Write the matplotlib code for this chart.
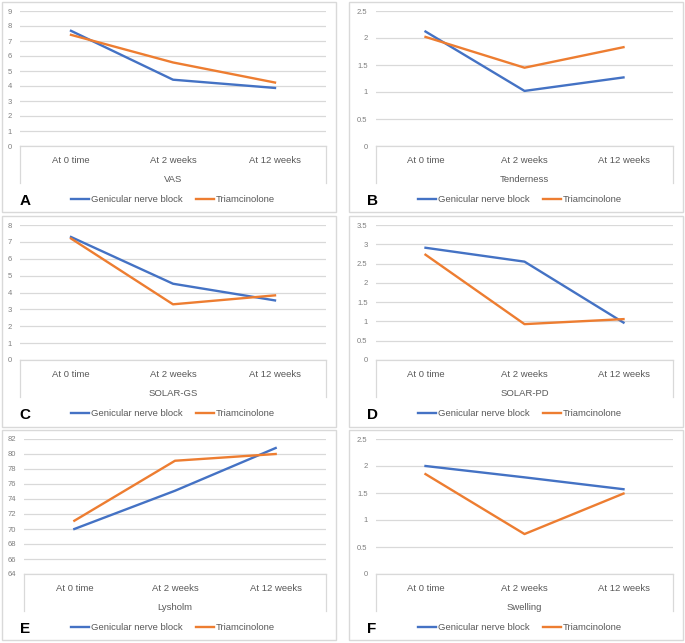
import matplotlib.pyplot as plt
from matplotlib.patches import Rectangle

plt.rcParams['font.family'] = ['Liberation Sans', 'DejaVu Sans']

# Data
times = ['At 0 time', 'At 2 weeks', 'At 12 weeks']
series_names = ['Genicular nerve block', 'Triamcinolone']

vas_gnb = [7.68, 4.42, 3.87]
vas_tri = [7.41, 5.57, 4.23]

tender_gnb = [2.12, 1.02, 1.27]
tender_tri = [2.02, 1.45, 1.83]

solar_gs_gnb = [7.29, 4.52, 3.53]
solar_gs_tri = [7.20, 3.30, 3.83]

solar_pd_gnb = [2.91, 2.55, 0.97]
solar_pd_tri = [2.73, 0.93, 1.06]

lysholm_gnb = [70.0, 75.1, 80.8]
lysholm_tri = [71.1, 79.1, 80.0]

swelling_gnb = [2.00, 1.79, 1.57]
swelling_tri = [1.85, 0.74, 1.49]

panel_letters = ['A', 'B', 'C', 'D', 'E', 'F']
panel_titles = ['VAS', 'Tenderness', 'SOLAR-GS', 'SOLAR-PD', 'Lysholm', 'Swelling']
panel_data = [(vas_gnb, vas_tri), (tender_gnb, tender_tri),
              (solar_gs_gnb, solar_gs_tri), (solar_pd_gnb, solar_pd_tri),
              (lysholm_gnb, lysholm_tri), (swelling_gnb, swelling_tri)]
y_ranges = [(0, 9, 1), (0, 2.5, 0.5), (0, 8, 1), (0, 3.5, 0.5), (64, 82, 2), (0, 2.5, 0.5)]

blue = '#4472C4'
orange = '#ED7D31'
grid_col = '#D9D9D9'
text_col = '#595959'

W, H = 685, 643
fig = plt.figure(figsize=(W / 100, H / 100), dpi=100)

# panel boxes (left, top, width, height) in pixels
boxes = [(2, 2, 334, 210), (349, 2, 334, 210),
         (2, 216, 334, 211), (349, 216, 334, 211),
         (2, 430, 334, 210), (349, 430, 334, 210)]
plot_left = [18, 27, 18, 27, 22, 27]


def fig_rect(x, y, w, h):
    return [x / W, 1 - (y + h) / H, w / W, h / H]


for i in range(6):
    bx, by, bw, bh = boxes[i]
    fig.patches.append(Rectangle((bx / W, 1 - (by + bh) / H), bw / W, bh / H,
                                 transform=fig.transFigure, facecolor='white',
                                 edgecolor=grid_col, linewidth=1, zorder=-5))

    pl = plot_left[i]
    ax = fig.add_axes(fig_rect(bx + pl, by + 9, 324 - pl, 135))
    ax.set_facecolor('none')
    lo, hi, step = y_ranges[i]
    gnb, tri = panel_data[i]
    x = [0.5, 1.5, 2.5]
    ax.plot(x, gnb, color=blue, lw=1.7, label=series_names[0])
    ax.plot(x, tri, color=orange, lw=1.7, label=series_names[1])

    ax.set_xlim(0, 3)
    ax.set_ylim(lo, hi)
    n = int(round((hi - lo) / step))
    ticks = [lo + k * step for k in range(n + 1)]
    ax.set_yticks(ticks)
    ax.set_yticklabels(['%g' % t for t in ticks])
    ax.yaxis.grid(True, color=grid_col, lw=0.9)
    ax.axhline(lo, color=grid_col, lw=0.9, clip_on=False, zorder=0.5)
    ax.set_axisbelow(True)
    for s in ax.spines.values():
        s.set_visible(False)
    ax.tick_params(axis='y', length=0, labelsize=5.5, labelcolor='#7F7F7F', pad=6)

    ax.set_xticks(x)
    ax.set_xticklabels(times)
    ax.tick_params(axis='x', length=0, labelsize=6.8, labelcolor=text_col, pad=7)

    # multi-level category box edges
    for xe in (0, 1):
        ax.plot([xe, xe], [0, -37 / 135], transform=ax.transAxes, color=grid_col,
                lw=0.9, clip_on=False)
    ax.text(0.5, -33 / 135, panel_titles[i], transform=ax.transAxes,
            ha='center', va='center', fontsize=6.8, color=text_col)

    fig.legend(handles=ax.get_lines()[:2], loc='center', ncol=2, frameon=False,
               fontsize=6.8, labelcolor=text_col, handlelength=1.9,
               handletextpad=0.2, columnspacing=1.4,
               bbox_to_anchor=((bx + 171) / W, 1 - (by + 198) / H))
    fig.text((bx + 23) / W, 1 - (by + 199) / H, panel_letters[i], ha='center',
             va='center', fontsize=11, fontweight='bold', color='black')

fig.savefig('out.png', dpi=100)
